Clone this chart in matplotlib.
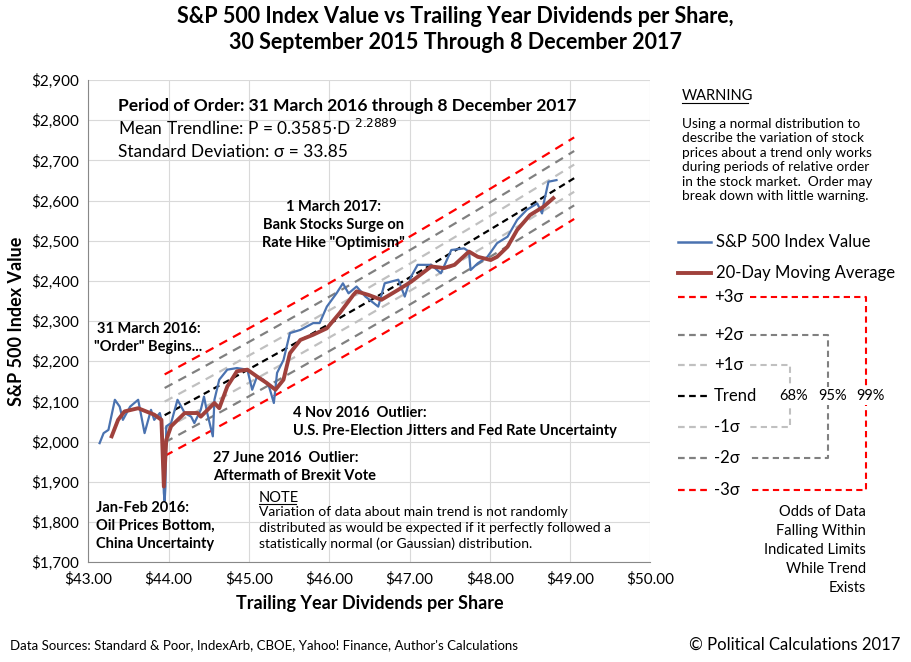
import matplotlib
matplotlib.use("Agg")
import matplotlib.pyplot as plt
import numpy as np
from matplotlib.lines import Line2D

plt.rcParams['font.family'] = ['Lato', 'DejaVu Sans']

sp_div = [43.14,43.19,43.25,43.33,43.39,43.43,43.52,43.62,43.70,43.78,43.82,43.89,43.91,43.94,43.95,43.96,43.97,44.03,44.11,44.20,44.28,44.32,44.40,44.44,44.48,44.55,44.57,44.63,44.73,44.85,44.98,45.04,45.10,45.18,45.25,45.31,45.35,45.43,45.51,45.64,45.80,45.88,45.97,46.09,46.17,46.24,46.34,46.45,46.61,46.69,46.86,46.94,47.02,47.10,47.27,47.39,47.52,47.68,47.74,47.76,47.85,47.97,48.09,48.22,48.34,48.46,48.59,48.65,48.67,48.73,48.83]
sp_val = [1996,2021,2029,2104,2087,2054,2087,2104,2021,2079,2054,2071,2054,1872,1852,1888,2038,2046,2104,2071,2062,2046,2079,2112,2071,2013,2104,2154,2179,2183,2179,2129,2162,2154,2137,2096,2171,2203,2270,2278,2295,2295,2336,2369,2394,2369,2386,2361,2336,2394,2403,2361,2411,2440,2440,2419,2477,2481,2473,2427,2444,2460,2494,2510,2552,2577,2593,2568,2593,2647,2651]

ma_div = [43.29,43.37,43.45,43.62,43.82,43.91,43.94,43.97,44.03,44.20,44.36,44.40,44.57,44.63,44.73,44.85,44.98,45.10,45.22,45.33,45.43,45.51,45.64,45.80,45.97,46.13,46.30,46.34,46.49,46.65,46.86,47.02,47.27,47.43,47.56,47.74,47.85,48.01,48.09,48.22,48.34,48.50,48.67,48.79]
ma_val = [2013,2054,2075,2083,2067,2054,1888,2004,2038,2071,2071,2062,2096,2083,2137,2175,2179,2162,2146,2129,2154,2220,2253,2266,2282,2320,2365,2374,2365,2353,2378,2398,2436,2432,2440,2473,2460,2452,2460,2485,2527,2564,2585,2606]

coef, expo, sigma = 0.3585, 2.2889, 33.85
trend_range = [43.95, 49.05]

fig = plt.figure(figsize=(9.11, 6.62), dpi=100)
ax = fig.add_axes([0.097, 0.151, 0.617, 0.728])
ax.set_xlim(43, 50); ax.set_ylim(1700, 2900)
ax.set_xticks(np.arange(43, 50.01, 1))
ax.set_xticklabels([f"${v:.2f}" for v in np.arange(43, 50.01, 1)], fontsize=11)
ax.set_yticks(np.arange(1700, 2901, 100))
ax.set_yticklabels([f"${v:,}" for v in range(1700, 2901, 100)], fontsize=11)
ax.grid(True, color='#d9d9d9', lw=0.8)
ax.set_axisbelow(True)
for s in ['top', 'right']:
    ax.spines[s].set_visible(False)
for s in ['left', 'bottom']:
    ax.spines[s].set_color('#888888')
ax.tick_params(length=0, pad=7)

d = np.linspace(trend_range[0], trend_range[1], 50)
t = coef * d ** expo
styles = [(3, 'red'), (2, '#808080'), (1, '#c0c0c0')]
for k, c in styles:
    ax.plot(d, t + k * sigma, ls=(0, (4, 3)), color=c, lw=1.6)
    ax.plot(d, t - k * sigma, ls=(0, (4, 3)), color=c, lw=1.6)
ax.plot(d, t, ls=(0, (3, 2)), color='black', lw=1.6)
ax.plot(sp_div, sp_val, color='#4a72b0', lw=1.6)
ax.plot(ma_div, ma_val, color='#a0413c', lw=2.8)

ax.set_xlabel("Trailing Year Dividends per Share", fontsize=13, fontweight='bold', labelpad=6)
ax.set_ylabel("S&P 500 Index Value", fontsize=13, fontweight='bold')

fig.text(0.5, 0.955, "S&P 500 Index Value vs Trailing Year Dividends per Share,\n30 September 2015 Through 8 December 2017",
         ha='center', va='center', fontsize=15.5, fontweight='bold', linespacing=1.3)

ax.text(43.37, 2835, "Period of Order: 31 March 2016 through 8 December 2017", fontsize=12.5, fontweight='bold', va='center')
ax.text(43.37, 2780, r"Mean Trendline: P = 0.3585$\cdot$D $^{2.2889}$", fontsize=12.5, va='center')
ax.text(43.37, 2720, "Standard Deviation: σ = 33.85", fontsize=12.5, va='center')
bold = dict(fontsize=10.5, fontweight='bold', ha='center', va='center', linespacing=1.35)
ax.text(46.05, 2540, "1 March 2017:\nBank Stocks Surge on\nRate Hike \"Optimism\"", **bold)
ax.text(43.75, 2258, "31 March 2016:\n\"Order\" Begins...", **bold)
ax.text(45.55, 2048, "4 Nov 2016  Outlier:\nU.S. Pre-Election Jitters and Fed Rate Uncertainty", fontsize=10.5, fontweight='bold', va='center', ha='left', linespacing=1.35)
ax.text(44.55, 1936, "27 June 2016  Outlier:\nAftermath of Brexit Vote", fontsize=10.5, fontweight='bold', va='center', ha='left', linespacing=1.35)
ax.text(43.1, 1790, "Jan-Feb 2016:\nOil Prices Bottom,\nChina Uncertainty", fontsize=10.5, fontweight='bold', va='center', ha='left', linespacing=1.35)
ax.text(45.12, 1860, "NOTE", fontsize=10.5, va='center', ha='left')
ax.plot([45.12, 45.58], [1845, 1845], color='black', lw=0.8)
ax.text(45.12, 1785, "Variation of data about main trend is not randomly\ndistributed as would be expected if it perfectly followed a\nstatistically normal (or Gaussian) distribution.",
        fontsize=10, va='center', ha='left', linespacing=1.35)

# right panel
W, H = 911, 662
def fx(x): return x / W
def fy(y): return 1 - y / H
fig.text(fx(682), fy(96), "WARNING", fontsize=10.5, va='center')
fig.add_artist(Line2D([fx(682), fx(748)], [fy(103), fy(103)], color='black', lw=0.8))
fig.text(fx(682), fy(160), "Using a normal distribution to\ndescribe the variation of stock\nprices about a trend only works\nduring periods of relative order\nin the stock market.  Order may\nbreak down with little warning.",
         fontsize=9.8, va='center', linespacing=1.25)
fig.add_artist(Line2D([fx(678), fx(711)], [fy(242), fy(242)], color='#4a72b0', lw=1.8))
fig.text(fx(716), fy(242), "S&P 500 Index Value", fontsize=12, va='center')
fig.add_artist(Line2D([fx(678), fx(711)], [fy(273), fy(273)], color='#a0413c', lw=2.8))
fig.text(fx(716), fy(273), "20-Day Moving Average", fontsize=12, va='center')

leg = [("+3σ", 297, 'red'), ("+2σ", 335, '#808080'), ("+1σ", 365, '#c0c0c0'), ("Trend", 396, 'black'),
       ("-1σ", 427, '#c0c0c0'), ("-2σ", 458, '#808080'), ("-3σ", 490, 'red')]
for lab, y, c in leg:
    fig.add_artist(Line2D([fx(678), fx(710)], [fy(y), fy(y)], color=c, lw=1.6, ls=(0, (3, 2))))
    fig.text(fx(714), fy(y), lab, fontsize=12, va='center')
brackets = [(365, 427, 750, 790, '#c0c0c0'), (335, 458, 750, 828, '#808080'), (297, 490, 750, 866, 'red')]
for yt, yb, x0, x1, c in brackets:
    fig.add_artist(Line2D([fx(x0), fx(x1), fx(x1), fx(x0)], [fy(yt), fy(yt), fy(yb), fy(yb)], color=c, lw=1.5, ls=(0, (3, 2))))
wb = dict(facecolor='white', edgecolor='none', pad=1.5)
fig.text(fx(794), fy(396), "68%", fontsize=10.5, va='center', ha='center', bbox=wb)
fig.text(fx(833), fy(396), "95%", fontsize=10.5, va='center', ha='center', bbox=wb)
fig.text(fx(870), fy(396), "99%", fontsize=10.5, va='center', ha='center', bbox=wb)
fig.text(fx(866), fy(550), "Odds of Data\nFalling Within\nIndicated Limits\nWhile Trend\nExists", fontsize=10.5, ha='right', va='center', linespacing=1.45)

fig.text(fx(10), fy(645), "Data Sources: Standard & Poor, IndexArb, CBOE, Yahoo! Finance, Author's Calculations", fontsize=9.5, va='center')
fig.text(fx(900), fy(645), "© Political Calculations 2017", fontsize=12, va='center', ha='right')

fig.savefig("out.png", dpi=100)
